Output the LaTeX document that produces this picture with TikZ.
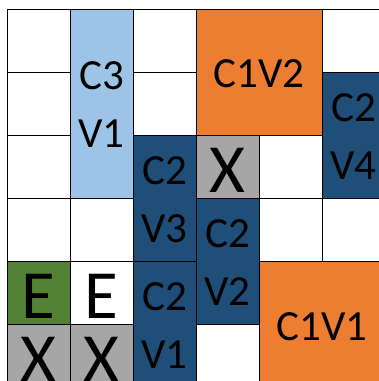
\documentclass[tikz,border=0pt]{standalone}
\usepackage{fontspec}
\setmainfont{Carlito}
\definecolor{lblue}{HTML}{9DC3E6}
\definecolor{dblue}{HTML}{1F4E79}
\definecolor{orng}{HTML}{ED7D31}
\definecolor{grn}{HTML}{548235}
\definecolor{gry}{HTML}{A6A6A6}
\tikzset{
  gridline/.style={draw=black, line width=1pt},
  blockbox/.style={draw=black, line width=1pt},
  lbl/.style={inner sep=0pt, outer sep=0pt, align=center, font=\fontsize{43}{58}\selectfont},
  biglbl/.style={inner sep=0pt, outer sep=0pt, font=\fontsize{69}{69}\selectfont},
}
\begin{document}
\begin{tikzpicture}[x=1pt,y=-1pt]
\useasboundingbox (0,0) rectangle (379,381);
\clip (0,0) rectangle (379,381);
% grid
\foreach \xx in {7,70,133,196,259,322}
  \draw[gridline] (\xx,9) -- (\xx,390);
\foreach \yy in {9,72,135,198,261,324}
  \draw[gridline] (7,\yy) -- (390,\yy);
% blocks
\filldraw[blockbox, fill=lblue] (70,9) rectangle (133,198);
\filldraw[blockbox, fill=orng] (196,9) rectangle (322,135);
\filldraw[blockbox, fill=dblue] (322,72) rectangle (385,198);
\filldraw[blockbox, fill=dblue] (133,135) rectangle (196,261);
\filldraw[blockbox, fill=dblue] (133,261) rectangle (196,387);
\filldraw[blockbox, fill=gry] (196,135) rectangle (259,198);
\filldraw[blockbox, fill=dblue] (196,198) rectangle (259,324);
\filldraw[blockbox, fill=orng] (259,261) rectangle (385,387);
\filldraw[blockbox, fill=grn] (7,261) rectangle (70,324);
\filldraw[blockbox, fill=gry] (7,324) rectangle (70,387);
\filldraw[blockbox, fill=gry] (70,324) rectangle (133,387);
% labels
\node[lbl] (c3v1) at (101.5,105) {C3\\V1};
\node[lbl] (c1v2) at (259,74) {C1V2};
\node[lbl] (c2v4) at (353.5,137) {C2\\V4};
\node[lbl] (c2v3) at (164.5,199.5) {C2\\V3};
\node[lbl] (c2v1) at (164.5,325.5) {C2\\V1};
\node[lbl] (c2v2) at (227.5,262.5) {C2\\V2};
\node[lbl] (c1v1) at (322,326.5) {C1V1};
\node[biglbl] (x1) at (227.5,170.5) {X};
\node[biglbl] (e1) at (38.5,296.5) {E};
\node[biglbl] (e2) at (101.5,296.5) {E};
\node[biglbl] (x2) at (38.5,359.5) {X};
\node[biglbl] (x3) at (101.5,359.5) {X};
\end{tikzpicture}
\end{document}
